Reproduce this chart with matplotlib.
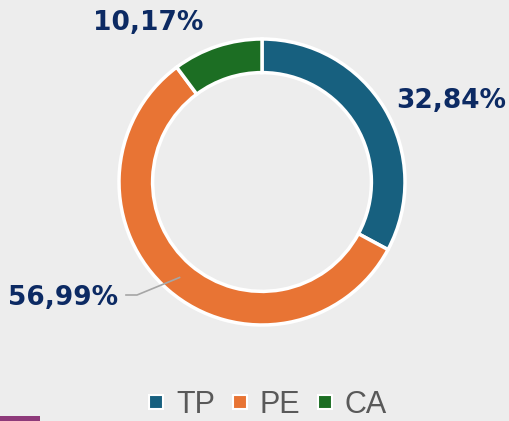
import numpy as np
import matplotlib.pyplot as plt
from matplotlib.lines import Line2D
from matplotlib.patches import Rectangle

# data
categories = ['TP', 'PE', 'CA']
shares = [32.84, 56.99, 10.17]
labels = ['32,84%', '56,99%', '10,17%']
colors = ['#17607f', '#e87434', '#1c6e23']

W, H = 510, 421
cx, cy, R = 262, 182, 143   # pixel centre / radius of ring

fig = plt.figure(figsize=(W / 100, H / 100), dpi=100)
fig.patch.set_facecolor('#ededed')
ax = fig.add_axes([0, 0, 1, 1])
ax.set_facecolor('#ededed')

wedges, _ = ax.pie(shares, colors=colors, startangle=90, counterclock=False,
                   radius=1, wedgeprops=dict(width=0.235, edgecolor='white', linewidth=2.5))

# map pixels -> data so that ring lands where it should
ax.set_xlim(-cx / R, (W - cx) / R)
ax.set_ylim(-(H - cy) / R, cy / R)
ax.set_aspect('auto')
ax.axis('off')

def px(x, y):
    return (x - cx) / R, (cy - y) / R

lab_style = dict(fontsize=19, fontweight='bold', color='#0c2a63', family='DejaVu Sans')

# TP label
ax.text(*px(451, 101), labels[0], ha='center', va='center', **lab_style)
# CA label
ax.text(*px(148, 23), labels[2], ha='center', va='center', **lab_style)
# PE label with leader line
w = wedges[1]
mid = np.deg2rad((w.theta1 + w.theta2) / 2)
rmid = 1 - 0.235 / 2
x0, y0 = rmid * np.cos(mid), rmid * np.sin(mid)
x1, y1 = px(137, 295)
x2, y2 = px(126, 295)
ax.plot([x0, x1, x2], [y0, y1, y2], color='#a6a6a6', lw=1.2)
ax.text(*px(118, 298), labels[1], ha='right', va='center', **lab_style)

# little purple slide element in the bottom-left corner
fig.patches.append(Rectangle((0, 0), 40 / W, 5 / H, transform=fig.transFigure,
                             facecolor='#8e3a7a', edgecolor='none'))

handles = [Line2D([], [], marker='s', ls='', markersize=10, markerfacecolor=c,
                  markeredgecolor='white', markeredgewidth=1.5) for c in colors]
leg = fig.legend(handles, categories, loc='center', bbox_to_anchor=(267 / W, 1 - 405 / H),
                 ncol=3, frameon=False, handlelength=0.6, handletextpad=0.35,
                 columnspacing=0.5, prop={'family': 'Liberation Sans', 'size': 22})
for t in leg.get_texts():
    t.set_color('#595959')

fig.savefig('out.png', dpi=100, facecolor=fig.get_facecolor())
